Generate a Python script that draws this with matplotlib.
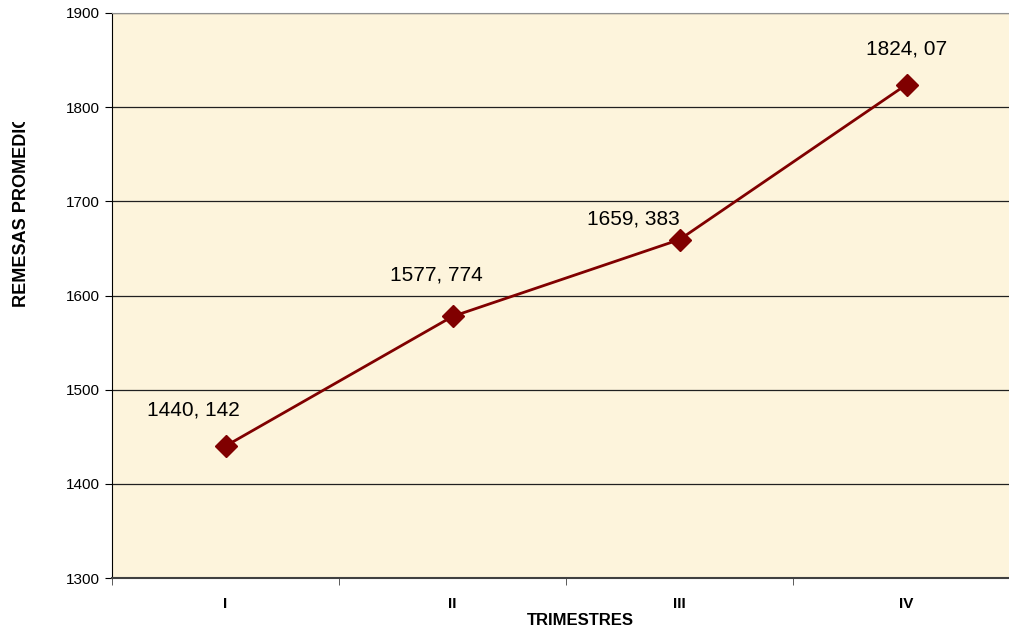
import matplotlib
matplotlib.use("Agg")
import matplotlib.pyplot as plt
from matplotlib.patches import Rectangle

plt.rcParams['font.family'] = ['Liberation Sans', 'DejaVu Sans']

trimestres = ['I', 'II', 'III', 'IV']
remesas = [1440.142, 1577.774, 1659.383, 1824.07]
etiquetas = ['1440, 142', '1577, 774', '1659, 383', '1824, 07']
# offsets of data labels (pixels) as placed in the original
offs = [(-32, 36), (-16, 41), (-46, 21), (0, 36)]

fig = plt.figure(figsize=(10.09, 6.34), dpi=100)
ax = fig.add_axes([0.111, 0.0883, 0.9, 0.8912])
ax.set_facecolor('#fdf4dc')

x = range(len(trimestres))
ax.plot(x, remesas, color='#800000', lw=2, marker='D', markersize=11, zorder=3)
for i, (v, t) in enumerate(zip(remesas, etiquetas)):
    ax.annotate(t, (i, v), xytext=offs[i], textcoords='offset pixels',
                ha='center', va='center', fontsize=15, color='black')

ax.set_xlim(-0.5, 3.5)
ax.set_ylim(1300, 1900)
ax.set_yticks(range(1300, 2000, 100))
ax.set_xticks(x)
ax.set_xticklabels(trimestres, fontweight='bold', fontsize=11)
ax.set_xticks([-0.5, 0.5, 1.5, 2.5, 3.5], minor=True)
ax.tick_params(axis='x', which='major', length=0, pad=14)
ax.tick_params(axis='x', which='minor', length=5, direction='out', color='#404040')
ax.tick_params(axis='y', length=5, direction='out', labelsize=11, pad=4)
ax.yaxis.grid(True, color='#202020', lw=0.9)
ax.set_axisbelow(True)

ax.spines['right'].set_visible(False)
ax.spines['top'].set_color('#909090')
ax.spines['left'].set_color('black')
ax.spines['bottom'].set_color('#404040')
ax.spines['bottom'].set_linewidth(1.5)

fig.text(0.575, 0.022, 'TRIMESTRES', ha='center', va='center',
         fontsize=12, fontweight='bold')
# y label runs past the top of its box in the original, so the end is cut off
fig.text(0.021, 0.516, 'REMESAS PROMEDIO', rotation=90, ha='center',
         va='bottom', fontsize=13, fontweight='bold', zorder=2)
fig.patches.append(Rectangle((0, 0.808), 0.06, 0.2, transform=fig.transFigure,
                             facecolor='white', edgecolor='none', zorder=5))

fig.savefig('out.png', dpi=100)
